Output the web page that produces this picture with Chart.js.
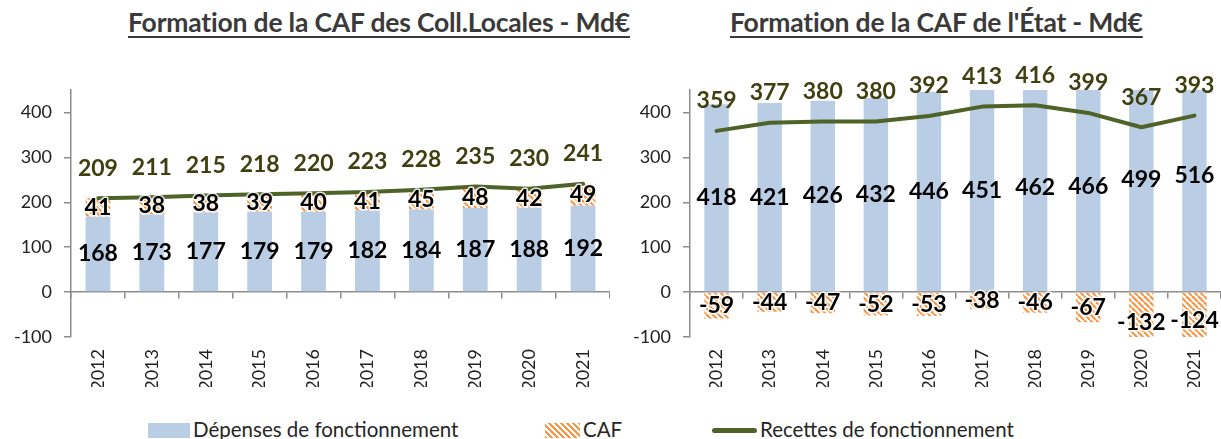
<!DOCTYPE html>
<html lang="fr">
<head>
<meta charset="utf-8">
<script src="https://cdn.jsdelivr.net/npm/chart.js@4/dist/chart.umd.min.js"></script>
<style>
  html, body { margin: 0; padding: 0; background: #fff; }
  body { width: 1221px; height: 439px; position: relative; overflow: hidden; font-family: Lato, "Open Sans", sans-serif; }
  .title { position: absolute; top: 6px; font-weight: bold; font-size: 26.5px; color: #3a3a3a; text-decoration: underline; text-decoration-thickness: 2px; text-underline-offset: 4px; white-space: nowrap; letter-spacing: -0.2px; }
  .box { position: absolute; top: 50px; height: 337px; }
  .legend { position: absolute; top: 418px; font-size: 20.5px; color: #262626; white-space: nowrap; line-height: 22px; }
  .sw { position: absolute; }
</style>
</head>
<body>
<div class="title" style="left:128px">Formation de la CAF des Coll.Locales - Md€</div>
<div class="title" style="left:730px">Formation de la CAF de l'État - Md€</div>
<div class="box" style="left:0; width:610px"><canvas id="chart-cl"></canvas></div>
<div class="box" style="left:610px; width:611px"><canvas id="chart-etat"></canvas></div>

<div class="sw" style="left:148px; top:423px; width:42px; height:15px; background:#b9cde5"></div>
<div class="legend" style="left:193px">Dépenses de fonctionnement</div>
<div class="sw" style="left:545px; top:423px; width:35px; height:15px; background:repeating-linear-gradient(45deg, #f79646 0 2px, #fff 2px 4.2px)"></div>
<div class="legend" style="left:583px">CAF</div>
<div class="sw" style="left:712px; top:428px; width:45px; height:5px; border-radius:3px; background:#4f6228"></div>
<div class="legend" style="left:760px">Recettes de fonctionnement</div>

<script>
// Années
const years = ["2012", "2013", "2014", "2015", "2016", "2017", "2018", "2019", "2020", "2021"];

// Collectivités locales (Md€)
const depensesCL = [168, 173, 177, 179, 179, 182, 184, 187, 188, 192];
const cafCL = [41, 38, 38, 39, 40, 41, 45, 48, 42, 49];
const recettesCL = [209, 211, 215, 218, 220, 223, 228, 235, 230, 241];

// État (Md€)
const depensesEtat = [418, 421, 426, 432, 446, 451, 462, 466, 499, 516];
const cafEtat = [-59, -44, -47, -52, -53, -38, -46, -67, -132, -124];
const recettesEtat = [359, 377, 380, 380, 392, 413, 416, 399, 367, 393];

// Axe vertical
const yMin = -100;
const yMax = 450;
const yStep = 100;

const AXIS_GREY = "#8c8c8c";
const BLUE = "#b9cde5";
const ORANGE = "#f79646";
const OLIVE = "#4f6228";

// Hachures orange pour la CAF
const makeHatch = () => {
	const tile = document.createElement("canvas");
	tile.width = 6;
	tile.height = 6;
	const c = tile.getContext("2d");
	c.fillStyle = "#fff";
	c.fillRect(0, 0, 6, 6);
	c.strokeStyle = ORANGE;
	c.lineWidth = 2.2;
	for (let k = -1; k <= 1; k++) {
		c.beginPath();
		c.moveTo(k * 6, 0);
		c.lineTo(k * 6 + 6, 6);
		c.stroke();
	}
	return c.createPattern(tile, "repeat");
};

// Étiquettes de valeurs
const valueLabels = {
	id: "valueLabels",
	afterDatasetsDraw(chart) {
		const ctx = chart.ctx;
		chart.data.datasets.forEach((ds, i) => {
			const meta = chart.getDatasetMeta(i);
			meta.data.forEach((el, j) => {
				const p = el.getProps(["x", "y", "base"], true);
				const y = ds.type === "line" ? p.y - 30 : (p.y + p.base) / 2;
				ctx.save();
				ctx.font = "bold 23px Lato, sans-serif";
				ctx.textAlign = "center";
				ctx.textBaseline = "middle";
				if (ds.halo) {
					ctx.lineWidth = 3;
					ctx.strokeStyle = "rgba(255,255,255,0.85)";
					ctx.lineJoin = "round";
					ctx.strokeText(String(ds.data[j]), p.x, y);
				}
				ctx.fillStyle = ds.labelColor;
				ctx.fillText(String(ds.data[j]), p.x, y);
				ctx.restore();
			});
		});
	},
};

const buildChart = (canvasId, depenses, caf, recettes, yWidth) => {
	const hatch = makeHatch();
	return new Chart(document.getElementById(canvasId), {
		type: "bar",
		data: {
			labels: years,
			datasets: [
				{
					type: "line",
					label: "Recettes de fonctionnement",
					data: recettes,
					borderColor: OLIVE,
					borderWidth: 4,
					pointRadius: 0,
					tension: 0,
					borderJoinStyle: "round",
					borderCapStyle: "round",
					stack: "line",
					order: 0,
					labelColor: "#3f3f10",
				},
				{
					label: "Dépenses de fonctionnement",
					data: depenses,
					backgroundColor: BLUE,
					barPercentage: 0.46,
					categoryPercentage: 1,
					stack: "bars",
					order: 1,
					labelColor: "#000",
				},
				{
					label: "CAF",
					data: caf,
					backgroundColor: hatch,
					barPercentage: 0.46,
					categoryPercentage: 1,
					stack: "bars",
					order: 1,
					labelColor: "#000",
					halo: true,
				},
			],
		},
		options: {
			responsive: true,
			maintainAspectRatio: false,
			animation: false,
			layout: { padding: { top: 40, right: 0, left: 0, bottom: 0 } },
			plugins: {
				legend: { display: false },
				tooltip: { enabled: false },
			},
			scales: {
				x: {
					type: "category",
					position: { y: 0 },
					stacked: true,
					offset: true,
					grid: {
						offset: true,
						drawOnChartArea: false,
						drawTicks: true,
						tickLength: 6,
						color: AXIS_GREY,
						lineWidth: 1.5,
					},
					border: { color: AXIS_GREY, width: 1.5 },
					ticks: { display: false },
				},
				x2: {
					type: "category",
					position: "bottom",
					offset: true,
					grid: { display: false },
					border: { display: false },
					ticks: {
						minRotation: 90,
						maxRotation: 90,
						padding: 4,
						color: "#222",
						font: { family: "Lato", size: 18 },
					},
					afterFit: (s) => {
						s.height = 50;
					},
				},
				y: {
					type: "linear",
					stacked: true,
					min: yMin,
					max: yMax,
					afterBuildTicks: (s) => {
						s.ticks = s.ticks.filter((t) => t.value % yStep === 0);
					},
					afterFit: (s) => {
						s.width = yWidth;
					},
					grid: {
						drawOnChartArea: false,
						drawTicks: true,
						tickLength: 7,
						color: AXIS_GREY,
						lineWidth: 1.5,
					},
					border: { color: AXIS_GREY, width: 1.5 },
					ticks: {
						stepSize: yStep,
						padding: 12,
						color: "#222",
						font: { family: "Lato", size: 18 },
					},
				},
			},
		},
		plugins: [valueLabels],
	});
};

buildChart("chart-cl", depensesCL, cafCL, recettesCL, 71);
buildChart("chart-etat", depensesEtat, cafEtat, recettesEtat, 80);
</script>
</body>
</html>
